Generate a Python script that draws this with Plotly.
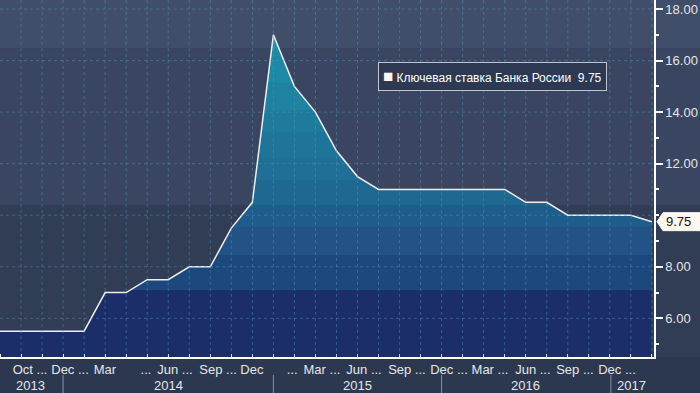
import plotly.graph_objects as go

# ---- data (sample index along the x axis, key rate in %) ----
key_rate = [5.5, 5.5, 5.5, 5.5, 5.5, 7.0, 7.0, 7.5, 7.5, 8.0, 8.0, 9.5, 10.5,
            17.0, 15.0, 14.0, 12.5, 11.5, 11.0, 11.0, 11.0, 11.0, 11.0, 11.0,
            11.0, 10.5, 10.5, 10.0, 10.0, 10.0, 10.0, 9.75]
sample_idx = list(range(len(key_rate)))

month_pos = [1.43, 3.33, 4.99, 6.94, 8.32, 10.37, 11.98, 13.89, 15.31, 17.31,
             19.35, 21.35, 23.3, 25.34, 27.34, 29.34]
month_text = ["Oct ...", "Dec ...", "Mar", "...", "Jun ...", "Sep ...", "Dec",
              "...", "Mar ...", "Jun ...", "Sep ...", "Dec ...", "Mar ...",
              "Jun ...", "Sep ...", "Dec ..."]
year_pos = [1.47, 7.99, 16.98, 25.01, 30.05]
year_text = ["2013", "2014", "2015", "2016", "2017"]
year_sep = [3, 13, 21, 29.05]

y_ticks = [6, 8, 12, 14, 16, 18]
series_name = "Ключевая ставка Банка России"

# fill bands (bottom -> top)
fill_edges = [4.5, 7.10, 8.46, 9.54, 10.40, 11.36, 12.26, 13.22, 14.08, 15.12, 16.48, 18.35]
fill_colors = ["#1b2e69", "#1d487e", "#225286", "#1e5c8b", "#1e6892", "#1f6f96",
               "#1e7599", "#1f7b9c", "#1e82a0", "#1c8aa6", "#1e92ae"]
bg_edges = [4.5, 10.40, 16.48, 18.35]
bg_colors = ["#313c55", "#3a4661", "#414e6a"]

Y0, Y1 = 4.5, 18.35
X0, X1 = 0, 31.1
PLOT_H = 357

def ypaper(v):
    return (v - Y0) / (Y1 - Y0)

stops = []
for i, c in enumerate(fill_colors):
    a = (fill_edges[i] - Y0) / (Y1 - Y0)
    b = (fill_edges[i + 1] - Y0) / (Y1 - Y0)
    stops += [[max(0, a), c], [min(1, b), c]]

fig = go.Figure()
fig.add_trace(go.Scatter(
    x=sample_idx, y=key_rate, mode="lines",
    line=dict(color="#eeeeee", width=1.5),
    fill="tozeroy",
    fillgradient=dict(type="vertical", colorscale=stops, start=Y0, stop=Y1),
    showlegend=False, hoverinfo="skip",
))

shapes = []
# background bands
for i, c in enumerate(bg_colors):
    shapes.append(dict(type="rect", xref="paper", yref="paper", x0=0, x1=1.08,
                       y0=ypaper(bg_edges[i]), y1=ypaper(bg_edges[i + 1]),
                       fillcolor=c, line=dict(width=0), layer="below"))
# grid (dotted)
grid_col = "rgba(85,150,190,0.45)"
for gx in range(1, 32):
    shapes.append(dict(type="line", xref="x", yref="paper", x0=gx, x1=gx, y0=0, y1=1,
                       line=dict(color=grid_col, width=1, dash="dot"), layer="above"))
for gy in range(6, 19, 2):
    shapes.append(dict(type="line", xref="paper", yref="y", x0=0, x1=1, y0=gy, y1=gy,
                       line=dict(color=grid_col, width=1, dash="dot"), layer="above"))
# year separators
for sx in year_sep:
    shapes.append(dict(type="line", xref="x", yref="paper", x0=sx, x1=sx,
                       y0=-18 / PLOT_H, y1=-40 / PLOT_H, line=dict(color="#8891a3", width=1)))
# last value label box
last = key_rate[-1]
yc = ypaper(last)
hh = 9 / PLOT_H
shapes.append(dict(type="path", xref="paper", yref="paper",
                   path=f"M 1.0046 {yc} L 1.0138 {yc + hh} L 1.08 {yc + hh} L 1.08 {yc - hh} L 1.0138 {yc - hh} Z",
                   fillcolor="#fff8f0", line=dict(color="#fff8f0", width=1), layer="above"))

annotations = []
for xp, t in zip(year_pos, year_text):
    annotations.append(dict(x=xp, y=-28 / PLOT_H, xref="x", yref="paper", text=t, showarrow=False,
                            font=dict(size=13, color="#e6e6e6", family="Liberation Sans"),
                            xanchor="center", yanchor="middle"))
annotations.append(dict(x=1.016, y=yc, xref="paper", yref="paper", text=f"{last:.2f}",
                        showarrow=False, xanchor="left", yanchor="middle",
                        font=dict(size=13, color="#111111", family="Liberation Sans")))
annotations.append(dict(x=0.753, y=0.787, xref="paper", yref="paper",
                        text=(f'<span style="color:#fff4ee;font-size:17px">■</span> '
                              f'{series_name}  {last:.2f}'),
                        showarrow=False, xanchor="center", yanchor="middle",
                        font=dict(size=12, color="#ffffff", family="Liberation Sans"),
                        bgcolor="#2d3953", bordercolor="#c0c5ce", borderwidth=1, borderpad=4))

fig.update_layout(
    width=700, height=393,
    margin=dict(l=0, r=46, t=0, b=36, autoexpand=False),
    paper_bgcolor="#2c3850", plot_bgcolor="rgba(0,0,0,0)",
    shapes=shapes, annotations=annotations,
    font=dict(family="Liberation Sans", color="#e6e6e6"),
    xaxis=dict(range=[X0, X1], showline=True, linecolor="#ffffff", linewidth=1.5,
               automargin=False,
               showgrid=False, zeroline=False, tickmode="array", tickvals=month_pos,
               ticktext=month_text, ticks="", tickfont=dict(size=13, color="#e6e6e6"),
               minor=dict(tickmode="linear", tick0=0, dtick=1, ticks="inside",
                          ticklen=3, tickcolor="#ffffff", showgrid=False)),
    yaxis=dict(range=[Y0, Y1], side="right", showline=True, linecolor="#ffffff",
               linewidth=1.5, automargin=False, showgrid=False, zeroline=False, tickmode="array",
               tickvals=y_ticks, tickformat=".2f", ticks="outside", ticklen=7,
               tickwidth=2, tickcolor="#ffffff",
               tickfont=dict(size=13, color="#e6e6e6"),
               minor=dict(tickmode="linear", tick0=0, dtick=1, ticks="outside",
                          ticklen=3, tickcolor="#ffffff", showgrid=False)),
)

fig.write_html("out.html", config={"displayModeBar": False},
               post_script="document.body.style.margin='0';document.body.style.background='#2c3850';")
